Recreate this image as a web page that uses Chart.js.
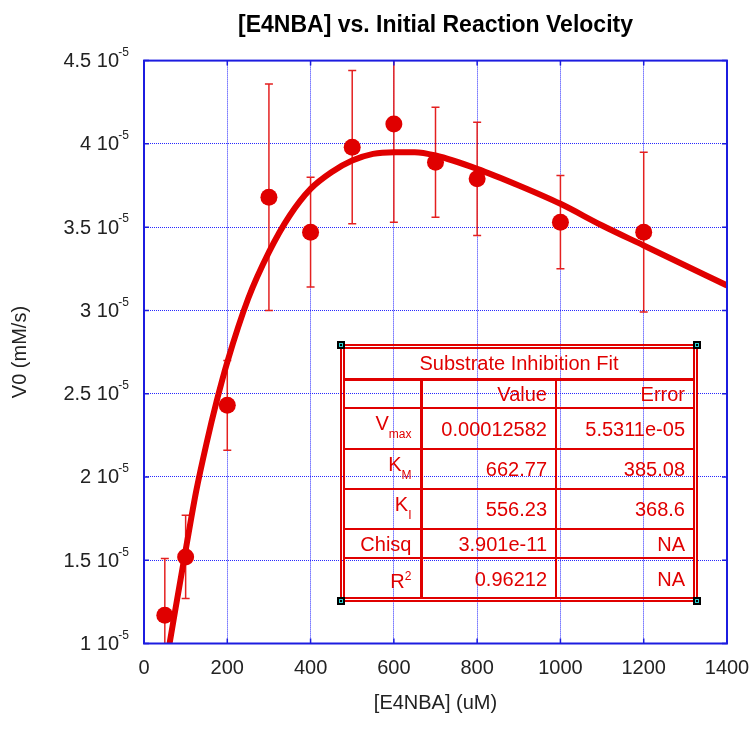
<!DOCTYPE html>
<html lang="en">
<head>
<meta charset="UTF-8">
<title>[E4NBA] vs. Initial Reaction Velocity</title>
<script src="https://cdn.jsdelivr.net/npm/chart.js"></script>
<style>
    body { margin: 0; background: #fff; }
    #wrap { position: relative; width: 750px; height: 742px; }
    #fitBox {
        position: absolute; left: 340px; top: 344px; width: 358px; height: 258px;
        box-sizing: border-box; border: 5px double #e00000;
    }
    #fitBox table {
        border-collapse: collapse; border-style: hidden; width: 100%; table-layout: fixed;
        font: 20px "Liberation Sans", Arial, sans-serif; color: #e00000;
    }
    #fitBox td {
        border: 2px solid #e00000; padding: 0 8px 0 0; text-align: right;
        white-space: nowrap; vertical-align: middle; line-height: 22px;
    }
    #fitBox td.first { border-right-width: 3px; }
    #fitBox tr.titulo td { text-align: center; padding: 0; border-bottom-width: 3px; }
    #fitBox sub { font-size: 12px; vertical-align: -8px; }
    #fitBox sup { font-size: 12px; vertical-align: 8px; }
    .canto {
        position: absolute; width: 8px; height: 8px; background: #000;
    }
    .canto div { position: absolute; left: 2px; top: 2px; width: 2px; height: 2px; border: 1px solid #2ad0d0; }
</style>
</head>
<body>
<div id="wrap">
    <canvas id="grafico" width="750" height="742"></canvas>
    <div id="fitBox">
        <table id="tabela"></table>
    </div>
    <div class="canto" style="left:337px;top:341px"><div></div></div>
    <div class="canto" style="left:693px;top:341px"><div></div></div>
    <div class="canto" style="left:337px;top:597px"><div></div></div>
    <div class="canto" style="left:693px;top:597px"><div></div></div>
</div>

<script>
    // measured points, [E4NBA] in uM, V0 in mM/s
    var concentracao = [50, 100, 200, 300, 400, 500, 600, 700, 800, 1000, 1200];
    var velocidade = [1.17e-5, 1.52e-5, 2.43e-5, 3.68e-5, 3.47e-5, 3.98e-5, 4.12e-5, 3.89e-5, 3.79e-5, 3.53e-5, 3.47e-5];
    var erro = [0.34e-5, 0.25e-5, 0.27e-5, 0.68e-5, 0.33e-5, 0.46e-5, 0.59e-5, 0.33e-5, 0.34e-5, 0.28e-5, 0.48e-5];

    // fitted curve
    var curvaX = [56, 75, 100, 125, 150, 175, 200, 250, 300, 350, 400, 450, 500, 550, 600, 650, 700, 800, 900, 1000, 1100, 1200, 1300, 1400];
    var curvaY = [0.92e-5, 1.2e-5, 1.56e-5, 1.91e-5, 2.2e-5, 2.46e-5, 2.69e-5, 3.07e-5, 3.35e-5, 3.57e-5, 3.73e-5, 3.83e-5, 3.9e-5, 3.94e-5, 3.95e-5, 3.95e-5, 3.93e-5, 3.85e-5, 3.75e-5, 3.64e-5, 3.51e-5, 3.39e-5, 3.27e-5, 3.15e-5];

    // fit table
    var parametros = ['V<sub>max</sub>', 'K<sub>M</sub>', 'K<sub>I</sub>', 'Chisq', 'R<sup>2</sup>'];
    var valores = ['0.00012582', '662.77', '556.23', '3.901e-11', '0.96212'];
    var erros = ['5.5311e-05', '385.08', '368.6', 'NA', 'NA'];
    var alturas = [41, 40, 40, 29, 40];

    var tabela = document.getElementById('tabela');
    var html = '<colgroup><col style="width:76px"><col style="width:135px"><col></colgroup>';
    html += '<tr class="titulo" style="height:30px"><td colspan="3">Substrate Inhibition Fit</td></tr>';
    html += '<tr style="height:29px"><td class="first"></td><td>Value</td><td>Error</td></tr>';
    for (var i = 0; i < parametros.length; i++) {
        html += '<tr style="height:' + alturas[i] + 'px"><td class="first">' + parametros[i] + '</td><td>' + valores[i] + '</td><td>' + erros[i] + '</td></tr>';
    }
    tabela.innerHTML = html;

    var vermelho = '#e00000';
    var azul = '#1c1ce0';
    var fonte = '"Liberation Sans", Arial, sans-serif';

    var barrasErro = {
        id: 'barrasErro',
        beforeDatasetsDraw: function (chart) {
            var ctx = chart.ctx, area = chart.chartArea, x = chart.scales.x, y = chart.scales.y;
            ctx.save();
            ctx.beginPath();
            ctx.rect(area.left, area.top, area.right - area.left, area.bottom - area.top);
            ctx.clip();
            ctx.strokeStyle = '#e42020';
            ctx.lineWidth = 1.5;
            for (var i = 0; i < concentracao.length; i++) {
                var px = x.getPixelForValue(concentracao[i]);
                var topo = y.getPixelForValue(velocidade[i] + erro[i]);
                var base = y.getPixelForValue(velocidade[i] - erro[i]);
                ctx.beginPath();
                ctx.moveTo(px, topo); ctx.lineTo(px, base);
                ctx.moveTo(px - 4, topo); ctx.lineTo(px + 4, topo);
                ctx.moveTo(px - 4, base); ctx.lineTo(px + 4, base);
                ctx.stroke();
            }
            ctx.restore();
        }
    };

    var moldura = {
        id: 'moldura',
        afterDraw: function (chart) {
            var ctx = chart.ctx, a = chart.chartArea, x = chart.scales.x, y = chart.scales.y;
            ctx.save();
            ctx.strokeStyle = azul;
            ctx.lineWidth = 2;
            ctx.strokeRect(a.left, a.top, a.right - a.left, a.bottom - a.top);
            ctx.lineWidth = 1.5;
            ctx.beginPath();
            x.ticks.forEach(function (t) {
                var px = x.getPixelForValue(t.value);
                ctx.moveTo(px, a.bottom); ctx.lineTo(px, a.bottom - 5);
                ctx.moveTo(px, a.top); ctx.lineTo(px, a.top + 5);
            });
            y.ticks.forEach(function (t) {
                var py = y.getPixelForValue(t.value);
                ctx.moveTo(a.left, py); ctx.lineTo(a.left + 5, py);
                ctx.moveTo(a.right, py); ctx.lineTo(a.right - 5, py);
            });
            ctx.stroke();

            // y labels as "4.5 10^-5"
            ctx.fillStyle = '#222';
            ctx.textAlign = 'right';
            ctx.textBaseline = 'middle';
            y.ticks.forEach(function (t) {
                var py = y.getPixelForValue(t.value);
                var mant = +(t.value / 1e-5).toFixed(1);
                ctx.font = '20px ' + fonte;
                ctx.fillText(mant + ' 10', a.left - 25, py + 1);
                ctx.font = '12px ' + fonte;
                ctx.fillText('-5', a.left - 15, py - 8);
            });
            ctx.restore();
        }
    };

    var ctx = document.getElementById('grafico').getContext('2d');
    var myChart = new Chart(ctx, {
        type: 'scatter',
        data: {
            datasets: [{
                label: 'V0',
                data: concentracao.map(function (c, i) { return { x: c, y: velocidade[i] }; }),
                backgroundColor: vermelho,
                borderWidth: 0,
                pointRadius: 8.5,
                clip: 0,
                order: 0
            }, {
                type: 'line',
                label: 'Substrate Inhibition Fit',
                data: curvaX.map(function (c, i) { return { x: c, y: curvaY[i] }; }),
                borderColor: vermelho,
                borderWidth: 6,
                pointRadius: 0,
                fill: false,
                cubicInterpolationMode: 'monotone',
                clip: 0,
                order: 1
            }]
        },
        options: {
            responsive: false,
            animation: false,
            devicePixelRatio: 1,
            layout: { padding: { left: 0, right: 23, top: 0, bottom: 0 } },
            plugins: {
                legend: { display: false },
                tooltip: { enabled: false },
                title: {
                    display: true,
                    fullSize: false,
                    text: '[E4NBA] vs. Initial Reaction Velocity',
                    color: '#000',
                    font: { family: fonte, size: 23, weight: 'bold' },
                    padding: { top: 12, bottom: 21 }
                }
            },
            scales: {
                x: {
                    type: 'linear',
                    min: 0,
                    max: 1400,
                    ticks: {
                        stepSize: 200, color: '#222', font: { family: fonte, size: 20 }, padding: 13, maxRotation: 0,
                        callback: function (v) { return String(v); }
                    },
                    grid: { color: '#2828ff', lineWidth: 1, drawTicks: false },
                    border: { display: false, dash: [1, 1] },
                    title: { display: true, text: '[E4NBA] (uM)', color: '#222', font: { family: fonte, size: 20 }, padding: { bottom: 27 } },
                    afterFit: function (scale) {
                        scale.height = 98.5;
                        scale.paddingLeft = 0;
                        scale.paddingRight = 0;
                    }
                },
                y: {
                    min: 1e-5,
                    max: 4.5e-5,
                    ticks: { stepSize: 0.5e-5, display: false },
                    grid: { color: '#2828ff', lineWidth: 1, drawTicks: false },
                    border: { display: false, dash: [1, 1] },
                    title: { display: true, text: 'V0 (mM/s)', color: '#222', font: { family: fonte, size: 20 }, padding: { top: 8 } },
                    afterFit: function (scale) { scale.width = 144; }
                }
            }
        },
        plugins: [barrasErro, moldura]
    });
</script>
</body>
</html>
